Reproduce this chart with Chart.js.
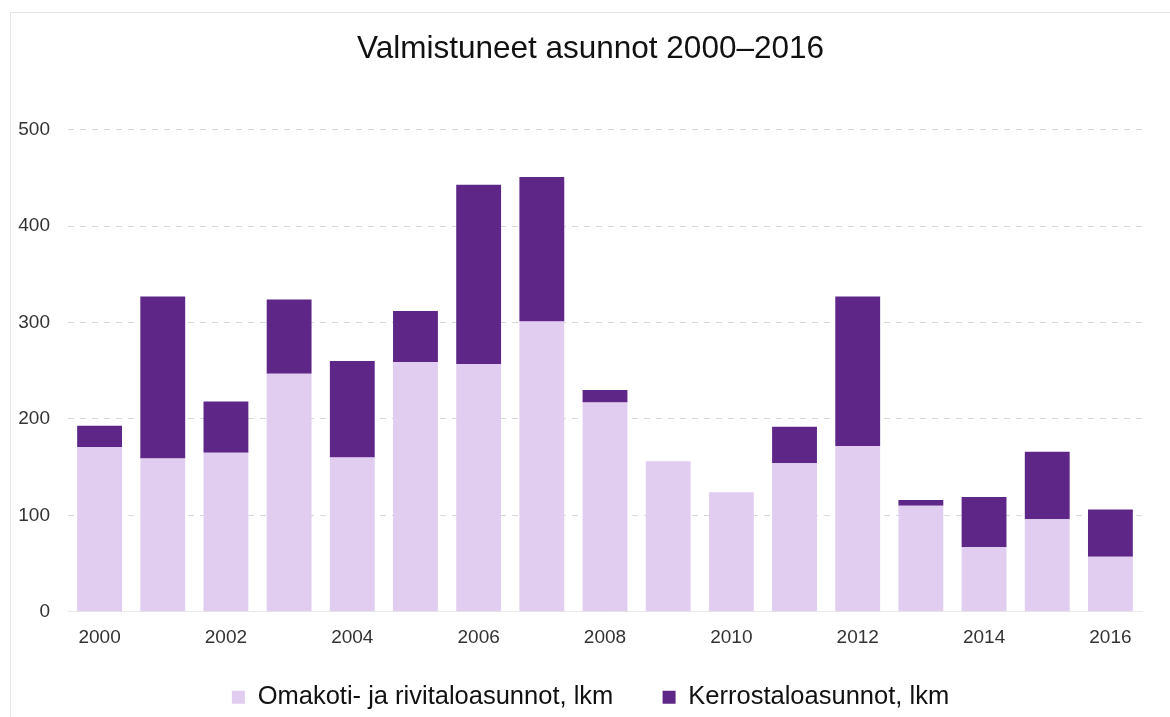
<!DOCTYPE html>
<html>
<head>
<meta charset="utf-8">
<script src="https://cdn.jsdelivr.net/npm/chart.js@4"></script>
<style>
  body { margin: 0; background: #fff; }
  #box {
    position: absolute; left: 10px; top: 12px; width: 1160px; height: 705px;
    border-left: 1px solid #e4e4e4; border-top: 1px solid #e4e4e4;
  }
</style>
</head>
<body>
<div id="box"><canvas id="chart" width="1159" height="704"></canvas></div>
<script>
const years = ['2000', '2001', '2002', '2003', '2004', '2005', '2006', '2007', '2008',
    '2009', '2010', '2011', '2012', '2013', '2014', '2015', '2016'];
const omakoti = [171, 159, 165, 247, 160, 259, 257, 301, 217, 156, 124, 154, 172, 110, 67, 96, 57];
const kerrostalo = [22, 168, 53, 77, 100, 53, 186, 150, 13, 0, 0, 38, 155, 6, 52, 70, 49];
const yTicks = [0, 100, 200, 300, 400, 500];

const font = '"Liberation Sans", Arial, sans-serif';

const ctx = document.getElementById('chart');
new Chart(ctx, {
    type: 'bar',
    data: {
        labels: years,
        datasets: [{
            // trailing spaces widen the gap between the two legend items
            label: 'Omakoti- ja rivitaloasunnot, lkm   ',
            data: omakoti,
            backgroundColor: '#e1cdf0',
            barPercentage: 0.71,
            categoryPercentage: 1
        }, {
            label: 'Kerrostaloasunnot, lkm',
            data: kerrostalo,
            backgroundColor: '#5e2787',
            barPercentage: 0.71,
            categoryPercentage: 1
        }]
    },
    options: {
        responsive: false,
        animation: false,
        layout: { padding: { left: 0, right: 0, top: 17, bottom: -3 } },
        plugins: {
            title: {
                display: true,
                text: 'Valmistuneet asunnot 2000\u20132016',
                color: '#111',
                font: { family: font, size: 31.5, weight: 'normal' },
                padding: { top: 0, bottom: 62 }
            },
            legend: {
                position: 'bottom',
                labels: {
                    color: '#111',
                    boxWidth: 13,
                    boxHeight: 13,
                    padding: 28,
                    font: { family: font, size: 25.5 }
                }
            },
            tooltip: { enabled: false }
        },
        scales: {
            x: {
                stacked: true,
                grid: { display: false },
                border: { color: '#e8e8e8' },
                ticks: {
                    autoSkip: false,
                    maxRotation: 0,
                    color: '#333',
                    font: { family: font, size: 19 },
                    padding: 7,
                    callback: function (v, i) { return i % 2 === 0 ? years[i] : ''; }
                }
            },
            y: {
                stacked: true,
                min: 0,
                max: 500,
                afterBuildTicks: function (axis) { axis.ticks = yTicks.map(v => ({ value: v })); },
                afterFit: function (axis) { axis.width = 57; },
                border: { display: false, dash: [6, 6] },
                grid: { color: '#d8d8d8', drawTicks: false },
                ticks: {
                    color: '#333',
                    padding: 18,
                    font: { family: font, size: 19 }
                }
            },
            // empty right axis, only keeps space on the right side
            yRight: {
                position: 'right',
                grid: { display: false },
                border: { display: false },
                ticks: { display: false },
                afterFit: function (axis) { axis.width = 28; }
            }
        }
    }
});
</script>
</body>
</html>
